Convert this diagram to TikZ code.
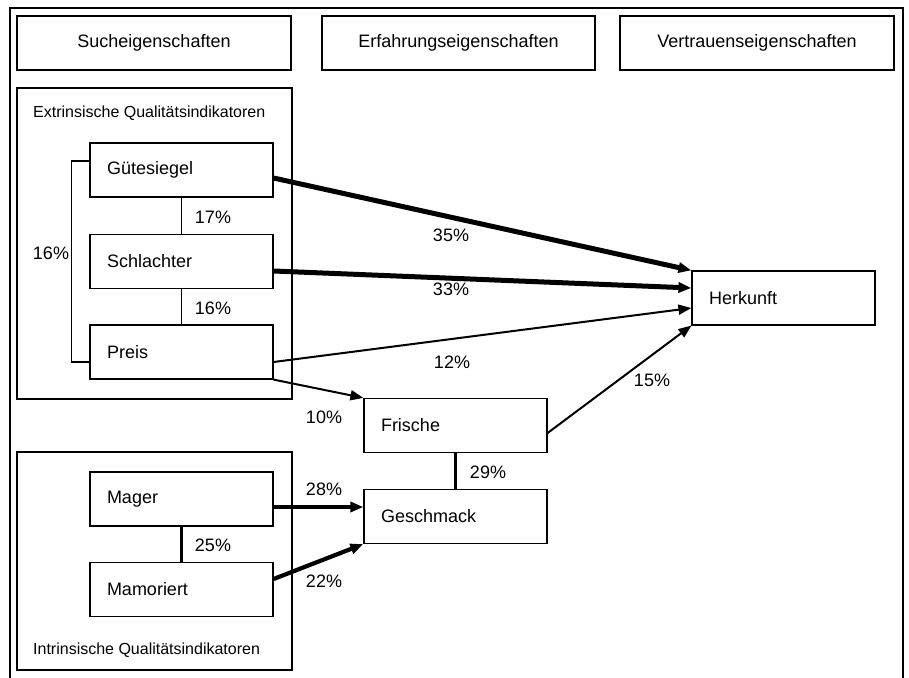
\documentclass[tikz,border=0pt]{standalone}
\usepackage{fontspec}
\setmainfont{Liberation Sans}
\usetikzlibrary{arrows.meta}
\begin{document}
\begin{tikzpicture}[x=1pt,y=-1pt,
  txt/.style={font=\fontsize{18pt}{21pt}\selectfont},
  grouptxt/.style={font=\fontsize{16pt}{19pt}\selectfont, inner sep=0pt, anchor=west},
  headbox/.style={draw, line width=1.2pt, rectangle, minimum height=54pt, txt, inner sep=0pt},
  itembox/.style={draw, line width=1.2pt, rectangle, minimum height=54pt, txt, text width=149pt, inner xsep=17pt, inner ysep=0pt, align=left},
  groupbox/.style={draw, line width=1.2pt, rectangle, minimum width=275pt, inner sep=0pt},
  pct/.style={txt, inner sep=0pt},
  tip/.style={-{Triangle[length=13pt,width=10pt]}},
  thinln/.style={line width=1.2pt},
  medln/.style={line width=2pt},
  fatln/.style={line width=3.2pt},
  heavyln/.style={line width=4.2pt},
  hugeln/.style={line width=5pt}
]
\useasboundingbox (0,0) rectangle (909,677);
\draw[line width=2.5pt] (10,8) rectangle (903,682);

% header boxes
\node[headbox, minimum width=274pt] (h1) at (154,43) {Sucheigenschaften};
\node[headbox, minimum width=273pt] (h2) at (458.5,43) {Erfahrungseigenschaften};
\node[headbox, minimum width=274pt] (h3) at (757,43) {Vertrauenseigenschaften};

% group boxes
\node[groupbox, minimum height=311pt] (ext) at (154.5,243.5) {};
\node[grouptxt] (extlab) at (33,113) {Extrinsische Qualitätsindikatoren};
\node[groupbox, minimum height=218pt] (int) at (154.5,561) {};
\node[grouptxt] (intlab) at (33,650) {Intrinsische Qualitätsindikatoren};

% items
\node[itembox] (g) at (181.5,170) {Gütesiegel};
\node[itembox] (s) at (181.5,261.5) {Schlachter};
\node[itembox] (p) at (181.5,352) {Preis};
\node[itembox] (ma) at (181.5,499) {Mager};
\node[itembox] (mo) at (181.5,589.5) {Mamoriert};
\node[itembox] (f) at (455.5,425.5) {Frische};
\node[itembox] (ge) at (455.5,516.5) {Geschmack};
\node[itembox] (h) at (783.5,298) {Herkunft};

% correlations
\draw[thinln] (g.south) -- (s.north);
\draw[thinln] (s.south) -- (p.north);
\draw[thinln] ([yshift=9pt]g.west) -- ++(-18,0) |- ([yshift=-10pt]p.west);
\draw[fatln] (ma.south) -- (mo.north);
\draw[fatln] (f.south) -- (ge.north);

% paths
\draw[hugeln, tip] ([yshift=-8pt]g.east) -- (h.north west);
\draw[hugeln, tip] ([yshift=-9.5pt]s.east) -- ([yshift=10pt]h.west);
\draw[medln, tip] ([yshift=-10pt]p.east) -- ([yshift=-10pt]h.west);
\draw[medln, tip] (p.south east) -- (f.north west);
\draw[medln, tip] ([yshift=-7.5pt]f.east) -- (h.south west);
\draw[heavyln, tip] ([yshift=-8pt]ma.east) -- ([yshift=9.5pt]ge.west);
\draw[heavyln, tip] ([yshift=10.5pt]mo.east) -- (ge.south west);

% labels
\node[pct] (l16a) at (51,253) {16\%};
\node[pct] (l17) at (213,217) {17\%};
\node[pct] (l16b) at (213,308) {16\%};
\node[pct] (l25) at (213,545) {25\%};
\node[pct] (l35) at (451,235) {35\%};
\node[pct] (l33) at (451,289) {33\%};
\node[pct] (l12) at (452,362) {12\%};
\node[pct] (l10) at (324,417) {10\%};
\node[pct] (l15) at (652,380) {15\%};
\node[pct] (l29) at (488,472) {29\%};
\node[pct] (l28) at (324,489) {28\%};
\node[pct] (l22) at (324,581) {22\%};
\end{tikzpicture}
\end{document}
